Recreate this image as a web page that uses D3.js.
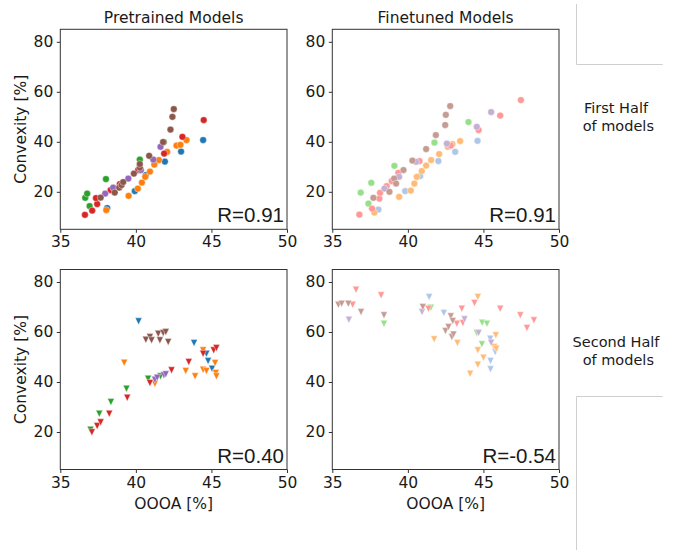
<!DOCTYPE html>
<html>
<head>
<meta charset="utf-8">
<script src="https://cdn.jsdelivr.net/npm/d3@7"></script>
<style>
  html, body { margin: 0; padding: 0; background: #fff; }
  svg text { font-family: "DejaVu Sans", sans-serif; fill: #1a1a1a; }
  .axis text { font-size: 15.5px; }
  .axis line, .axis path { stroke: #333; }
  .lbl { font-size: 15.5px; }
  .rval { font-family: "Liberation Sans", Arial, sans-serif !important; font-size: 20.5px; }
</style>
</head>
<body>
<svg id="chart" width="674" height="550"></svg>
<script>
/* OOOA vs convexity, 2x2 scatter: pretrained / finetuned, first / second half of models */
(function () {
  "use strict";

  // model families, drawn in this order
  var families = ["A", "B", "C", "D", "E", "F"];
  var darkCol = ["#1f77b4", "#ff7f0e", "#2ca02c", "#d62728", "#9467bd", "#8c564b"];
  var lightCol = ["#aec7e8", "#ffbb78", "#98df8a", "#ff9896", "#c5b0d5", "#c49c94"];
  var xTicks = [35, 40, 45, 50], yTicks = [20, 40, 60, 80];

  // [family index, OOOA %, convexity %]
  var preFirst = [
    [0,38.1,13.5],[0,39.93,20.3],[0,40.66,26.7],[0,41.92,32.1],[0,42.99,36.1],[0,44.45,40.7],
    [1,38.04,12.7],[1,39.52,18.4],[1,40.13,21.3],[1,40.4,23.7],[1,40.62,26],[1,40.93,28.1],[1,41.22,30.9],[1,41.52,32.7],[1,42.07,36],[1,42.69,38.5],[1,42.95,38.8],[1,43.35,40.7],
    [2,36.94,14.3],[2,36.65,17.6],[2,36.78,19.3],[2,38.02,25.1],[2,40.26,32.9],[2,41.85,39.9],
    [3,36.63,10.8],[3,37.11,12.5],[3,37.44,15.1],[3,37.36,17.5],[3,38.33,20.7],[3,38.94,23.1],[3,40.15,28.7],[3,41.87,35.3],[3,43.08,42],[3,44.49,48.7],
    [4,37.97,19.3],[4,38.5,21.7],[4,39.5,25.3],[4,40.33,28.7],[4,41.15,32.9],[4,41.63,38],
    [5,37.67,17.7],[5,38.6,19.7],[5,38.9,21.7],[5,39.05,22.7],[5,39.16,23.9],[5,39.87,27.3],[5,40.26,29.7],[5,40.26,31.1],[5,40.88,34.4],[5,41.8,39.9],[5,42.29,44.9],[5,42.42,50],[5,42.51,53.1]
  ];
  var fineFirst = [
    [0,38.05,12.9],[0,39.82,20.3],[0,40.81,26.3],[0,42.02,32.3],[0,43.13,36],[0,44.61,40.4],
    [1,37.78,11.7],[1,39.42,18],[1,40.19,20.5],[1,40.43,23.3],[1,40.59,26],[1,40.92,28.3],[1,41.21,30.5],[1,41.54,32.7],[1,42.07,35.1],[1,42.64,38],[1,42.95,39.1],[1,43.46,40.3],
    [2,36.88,19.7],[2,37.39,15.3],[2,37.58,23.6],[2,39.11,30.4],[2,41.76,39.7],[2,44.01,47.9],
    [3,36.79,10.9],[3,37.63,13.3],[3,38.11,17.3],[3,38.16,19.6],[3,38.6,22.3],[3,38.93,24.3],[3,39.37,27.6],[3,40.77,32.3],[3,42.84,38.5],[3,44.68,44.7],[3,46.11,50.5],[3,47.48,56.7],
    [4,38.45,21.3],[4,39.42,26],[4,40.54,32],[4,42.58,39.3],[4,44.56,46],[4,45.51,51.9],
    [5,37.72,17.6],[5,38.78,20],[5,39.09,25.3],[5,39.22,23.3],[5,39.71,28.7],[5,40.3,32.5],[5,41.21,37.1],[5,41.85,42.7],[5,42.47,46.7],[5,42.51,50.8],[5,42.8,54.3]
  ];
  var preSecond = [
    [0,40.18,64.3],[0,43.85,55.6],[0,44.67,51.3],[0,44.78,48.4],[0,45.04,45.3],
    [1,39.23,47.7],[1,41.26,39.3],[1,43.3,44.4],[1,43.92,42.3],[1,44.45,52.7],[1,44.45,44.9],[1,44.67,44.4],[1,45.24,47.6],[1,45.29,43.6],[1,45.33,42.3],
    [2,37,20.9],[2,37.58,27.3],[2,38.35,32],[2,39.38,37.3],[2,40.81,41.3],[2,41.63,42.3],
    [3,37.09,19.9],[3,37.44,22.4],[3,37.67,23.9],[3,38.24,27.3],[3,39.43,33.7],[3,40.93,39.6],[3,42.36,44.7],[3,43.5,48],[3,44.45,51.3],[3,45.15,52.7],[3,45.33,53.6],
    [4,41.26,40.9],[4,41.41,41.7],[4,41.85,42.7],[4,41.98,43.1],
    [5,40.66,56.9],[5,40.93,58],[5,41.04,56.7],[5,41.48,59.3],[5,41.59,56.7],[5,41.81,59.6],[5,41.98,60],[5,42.14,56]
  ];
  var fineSecond = [
    [0,41.41,74],[0,42.38,67.6],[0,45.45,57.3],[0,45.47,48.4],[0,45.47,45.1],[0,45.78,52],
    [1,44.63,74],[1,41.74,57.1],[1,43.28,55.6],[1,44.63,52.7],[1,44.63,46.9],[1,45.0,49.7],[1,44.12,43.3],[1,45.82,58.7],[1,45.71,54],[1,45.85,53.3],
    [2,38.42,63.3],[2,41.52,69.7],[2,44.56,59.6],[2,44.92,63.7],[2,45.23,63.3],[2,44.9,55.1],
    [3,36.57,76.9],[3,36.35,70.9],[3,38.23,74.7],[3,41.36,69.3],[3,43.24,63.3],[3,43.57,69.3],[3,43.64,63.6],[3,44.41,71.6],[3,46.11,69.3],[3,47.44,66.7],[3,47.88,61.6],[3,48.34,64.7],
    [4,36.1,64.9],[4,40.94,68],[4,43.75,65.1],[4,44.68,59.6],[4,45.51,55.7],
    [5,35.4,70.9],[5,35.62,71.3],[5,36.06,71.3],[5,36.9,68],[5,38.42,66.7],[5,40.99,70],[5,42.84,66.3],[5,42.97,64.4],[5,42.49,60.4],[5,42.69,62],[5,42.91,58],[5,43.02,59]
  ];

  var rTexts = ["R=0.91", "R=0.91", "R=0.40", "R=-0.54"];
  var colTitles = ["Pretrained Models", "Finetuned Models"];

  var PW = 226.7, PH = 200;
  var colX = [60.3, 332.3], rowY = [29.3, 269.5];
  var svg = d3.select("#chart");

  var panels = [
    { data: preFirst, col: 0, row: 0, colors: darkCol, tri: false },
    { data: fineFirst, col: 1, row: 0, colors: lightCol, tri: false },
    { data: preSecond, col: 0, row: 1, colors: darkCol, tri: true },
    { data: fineSecond, col: 1, row: 1, colors: lightCol, tri: true }
  ];

  var triDown = "M-3.4,-3.4L3.4,-3.4L0,3.4Z";

  panels.forEach(function (p, i) {
    var x = d3.scaleLinear().domain([35, 50]).range([0, PW]);
    var y = d3.scaleLinear().domain([5, 85]).range([PH, 0]);
    var g = svg.append("g").attr("transform", "translate(" + colX[p.col] + "," + rowY[p.row] + ")");

    g.append("g").attr("class", "axis").attr("transform", "translate(0," + PH + ")")
      .call(d3.axisBottom(x).tickValues(xTicks).tickSize(3.5).tickPadding(3.5).tickSizeOuter(0))
      .select(".domain").remove();
    g.append("g").attr("class", "axis")
      .call(d3.axisLeft(y).tickValues(yTicks).tickSize(3.5).tickPadding(3.5).tickSizeOuter(0))
      .select(".domain").remove();

    // points, family by family
    families.forEach(function (f, k) {
      var pts = p.data.filter(function (d) { return d[0] === k; });
      if (p.tri) {
        g.selectAll("path.m" + k).data(pts).enter().append("path").attr("class", "m" + k)
          .attr("d", triDown)
          .attr("transform", function (d) { return "translate(" + x(d[1]) + "," + y(d[2]) + ")"; })
          .attr("fill", p.colors[k]).attr("stroke", "#fff").attr("stroke-width", 0.4);
      } else {
        g.selectAll("circle.m" + k).data(pts).enter().append("circle").attr("class", "m" + k)
          .attr("cx", function (d) { return x(d[1]); })
          .attr("cy", function (d) { return y(d[2]); })
          .attr("r", 3.4)
          .attr("fill", p.colors[k]).attr("stroke", "#fff").attr("stroke-width", 0.4);
      }
    });

    // frame
    g.append("rect").attr("width", PW).attr("height", PH)
      .attr("fill", "none").attr("stroke", "#333").attr("stroke-width", 1);

    g.append("text").attr("class", "rval").attr("x", PW - 3).attr("y", PH - 7)
      .attr("text-anchor", "end").text(rTexts[i]);

    if (p.row === 0) {
      g.append("text").attr("class", "lbl").attr("x", PW / 2).attr("y", -6)
        .attr("text-anchor", "middle").text(colTitles[p.col]);
    } else {
      g.append("text").attr("class", "lbl").attr("x", PW / 2).attr("y", PH + 39.5)
        .attr("text-anchor", "middle").text("OOOA [%]");
    }
    if (p.col === 0) {
      g.append("text").attr("class", "lbl").attr("transform", "rotate(-90)")
        .attr("x", -PH / 2).attr("y", -34.5).attr("text-anchor", "middle").text("Convexity [%]");
    }
  });

  // row captions on the right
  var rowCaps = [["First Half", " of models"], ["Second Half", " of models"]];
  var capY = [113, 347];
  rowCaps.forEach(function (c, r) {
    var t = svg.append("text").attr("class", "lbl").attr("text-anchor", "middle")
      .attr("font-size", "14.5px").style("font-size", "14.5px").attr("xml:space", "preserve");
    c.forEach(function (line, j) {
      t.append("tspan").attr("x", 616).attr("y", capY[r] + j * 17.6).text(line);
    });
  });

  // partial frames of the hidden side axes
  var gl = svg.append("g").attr("stroke", "#cfcfcf").attr("fill", "none").attr("stroke-width", 1);
  gl.append("path").attr("d", "M576.5,4V64.5H662.7");
  gl.append("path").attr("d", "M576.5,550V396.5H662.7");
})();
</script>
</body>
</html>
